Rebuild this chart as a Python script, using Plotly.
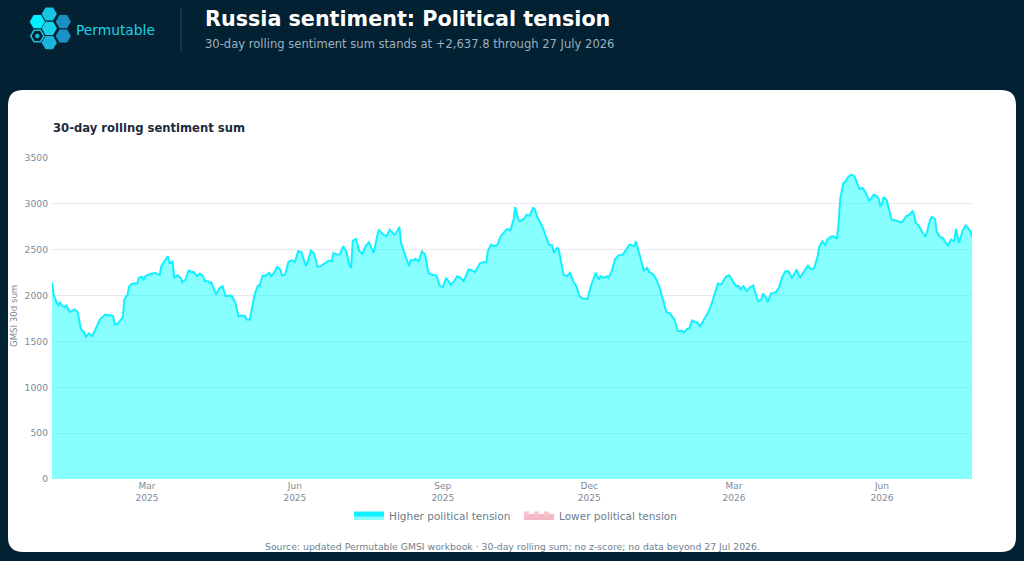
import math
import plotly.graph_objects as go

# ---------------- data ----------------
dates = [
    "2025-01-01", "2025-01-02", "2025-01-04", "2025-01-05", "2025-01-06", "2025-01-07", "2025-01-09", "2025-01-10",
    "2025-01-12", "2025-01-14", "2025-01-15", "2025-01-17", "2025-01-18", "2025-01-19", "2025-01-21", "2025-01-22",
    "2025-01-24", "2025-01-26", "2025-01-27", "2025-01-29", "2025-01-31", "2025-02-02", "2025-02-03", "2025-02-05",
    "2025-02-06", "2025-02-08", "2025-02-09", "2025-02-11", "2025-02-12", "2025-02-14", "2025-02-15", "2025-02-17",
    "2025-02-18", "2025-02-20", "2025-02-23", "2025-02-24", "2025-02-26", "2025-02-27", "2025-02-28", "2025-03-03",
    "2025-03-06", "2025-03-09", "2025-03-10", "2025-03-12", "2025-03-14", "2025-03-15", "2025-03-17", "2025-03-18",
    "2025-03-20", "2025-03-22", "2025-03-23", "2025-03-25", "2025-03-27", "2025-03-29", "2025-03-30", "2025-04-01",
    "2025-04-03", "2025-04-05", "2025-04-06", "2025-04-08", "2025-04-09", "2025-04-10", "2025-04-11", "2025-04-13",
    "2025-04-15", "2025-04-17", "2025-04-19", "2025-04-21", "2025-04-23", "2025-04-25", "2025-04-27", "2025-04-29",
    "2025-05-01", "2025-05-02", "2025-05-04", "2025-05-06", "2025-05-07", "2025-05-09", "2025-05-10", "2025-05-12",
    "2025-05-14", "2025-05-16", "2025-05-17", "2025-05-19", "2025-05-21", "2025-05-23", "2025-05-24", "2025-05-26",
    "2025-05-28", "2025-05-30", "2025-06-01", "2025-06-03", "2025-06-05", "2025-06-06", "2025-06-08", "2025-06-09",
    "2025-06-11", "2025-06-13", "2025-06-15", "2025-06-17", "2025-06-19", "2025-06-20", "2025-06-22", "2025-06-24",
    "2025-06-25", "2025-06-27", "2025-06-29", "2025-07-01", "2025-07-03", "2025-07-05", "2025-07-06", "2025-07-07",
    "2025-07-09", "2025-07-11", "2025-07-13", "2025-07-15", "2025-07-17", "2025-07-20", "2025-07-22", "2025-07-23",
    "2025-07-26", "2025-07-28", "2025-07-30", "2025-08-02", "2025-08-03", "2025-08-05", "2025-08-06", "2025-08-09",
    "2025-08-11", "2025-08-12", "2025-08-14", "2025-08-15", "2025-08-17", "2025-08-19", "2025-08-21", "2025-08-23",
    "2025-08-25", "2025-08-28", "2025-08-30", "2025-09-01", "2025-09-03", "2025-09-06", "2025-09-08", "2025-09-10",
    "2025-09-12", "2025-09-14", "2025-09-17", "2025-09-19", "2025-09-21", "2025-09-24", "2025-09-26", "2025-09-28",
    "2025-09-29", "2025-10-01", "2025-10-03", "2025-10-05", "2025-10-07", "2025-10-09", "2025-10-11", "2025-10-13",
    "2025-10-15", "2025-10-16", "2025-10-18", "2025-10-19", "2025-10-22", "2025-10-23", "2025-10-25", "2025-10-27",
    "2025-10-28", "2025-10-30", "2025-11-02", "2025-11-04", "2025-11-06", "2025-11-08", "2025-11-09", "2025-11-11",
    "2025-11-12", "2025-11-15", "2025-11-17", "2025-11-19", "2025-11-21", "2025-11-23", "2025-11-25", "2025-11-27",
    "2025-11-30", "2025-12-02", "2025-12-05", "2025-12-07", "2025-12-08", "2025-12-10", "2025-12-12", "2025-12-13",
    "2025-12-15", "2025-12-17", "2025-12-19", "2025-12-22", "2025-12-24", "2025-12-26", "2025-12-29", "2025-12-30",
    "2026-01-01", "2026-01-04", "2026-01-06", "2026-01-07", "2026-01-10", "2026-01-12", "2026-01-14", "2026-01-16",
    "2026-01-18", "2026-01-20", "2026-01-23", "2026-01-25", "2026-01-27", "2026-01-29", "2026-01-31", "2026-02-01",
    "2026-02-03", "2026-02-05", "2026-02-06", "2026-02-08", "2026-02-11", "2026-02-13", "2026-02-15", "2026-02-17",
    "2026-02-19", "2026-02-21", "2026-02-24", "2026-02-26", "2026-02-28", "2026-03-02", "2026-03-04", "2026-03-05",
    "2026-03-07", "2026-03-09", "2026-03-11", "2026-03-13", "2026-03-14", "2026-03-16", "2026-03-18", "2026-03-19",
    "2026-03-21", "2026-03-22", "2026-03-24", "2026-03-27", "2026-03-29", "2026-03-31", "2026-04-02", "2026-04-04",
    "2026-04-06", "2026-04-07", "2026-04-09", "2026-04-11", "2026-04-13", "2026-04-16", "2026-04-18", "2026-04-20",
    "2026-04-22", "2026-04-23", "2026-04-25", "2026-04-27", "2026-04-28", "2026-04-30", "2026-05-02", "2026-05-04",
    "2026-05-05", "2026-05-06", "2026-05-08", "2026-05-09", "2026-05-11", "2026-05-13", "2026-05-15", "2026-05-16",
    "2026-05-18", "2026-05-20", "2026-05-22", "2026-05-24", "2026-05-25", "2026-05-27", "2026-05-29", "2026-05-30",
    "2026-05-31", "2026-06-01", "2026-06-02", "2026-06-04", "2026-06-07", "2026-06-09", "2026-06-11", "2026-06-13",
    "2026-06-14", "2026-06-16", "2026-06-18", "2026-06-20", "2026-06-21", "2026-06-22", "2026-06-24", "2026-06-26",
    "2026-06-28", "2026-06-29", "2026-07-01", "2026-07-02", "2026-07-04", "2026-07-05", "2026-07-07", "2026-07-09",
    "2026-07-10", "2026-07-12", "2026-07-14", "2026-07-16", "2026-07-17", "2026-07-18", "2026-07-19", "2026-07-21",
    "2026-07-23", "2026-07-24", "2026-07-26", "2026-07-27",
]

gmsi_30d_sum = [
    2146, 2011, 1920, 1895, 1931, 1891, 1877, 1891,
    1822, 1837, 1848, 1819, 1721, 1630, 1601, 1550,
    1587, 1557, 1594, 1666, 1746, 1775, 1793, 1782,
    1790, 1775, 1684, 1695, 1714, 1764, 1957, 2011,
    2102, 2131, 2131, 2193, 2204, 2167, 2211, 2236,
    2247, 2226, 2320, 2374, 2429, 2356, 2371, 2193,
    2222, 2193, 2146, 2175, 2273, 2255, 2258, 2211,
    2240, 2211, 2157, 2157, 2138, 2146, 2102, 2011,
    2077, 2102, 1993, 2000, 1993, 1920, 1775, 1782,
    1775, 1739, 1739, 1920, 2011, 2109, 2102, 2218,
    2218, 2247, 2211, 2247, 2313, 2284, 2218, 2229,
    2367, 2385, 2363, 2483, 2476, 2422, 2320, 2374,
    2491, 2458, 2313, 2320, 2345, 2356, 2382, 2374,
    2465, 2447, 2447, 2538, 2480, 2330, 2302, 2600,
    2618, 2490, 2454, 2540, 2581, 2465, 2647, 2719,
    2665, 2647, 2719, 2665, 2683, 2748, 2574, 2411,
    2320, 2385, 2385, 2400, 2374, 2483, 2447, 2247,
    2229, 2218, 2109, 2091, 2193, 2120, 2157, 2211,
    2193, 2157, 2284, 2276, 2255, 2349, 2363, 2363,
    2483, 2556, 2538, 2556, 2647, 2690, 2727, 2712,
    2828, 2963, 2828, 2810, 2846, 2879, 2872, 2955,
    2948, 2846, 2748, 2647, 2556, 2545, 2465, 2520,
    2509, 2229, 2211, 2247, 2157, 2102, 1993, 1968,
    1964, 2102, 2247, 2175, 2211, 2193, 2211, 2193,
    2265, 2393, 2436, 2447, 2502, 2556, 2538, 2592,
    2465, 2273, 2302, 2265, 2229, 2167, 2075, 1957,
    1819, 1808, 1739, 1612, 1619, 1601, 1637, 1637,
    1728, 1710, 1710, 1666, 1757, 1819, 1902, 2022,
    2131, 2120, 2204, 2222, 2157, 2109, 2102, 2066,
    2102, 2048, 2091, 2109, 2048, 1938, 1957, 2022,
    1975, 1928, 2022, 2037, 2084, 2204, 2265, 2265,
    2193, 2218, 2284, 2193, 2247, 2327, 2284, 2302,
    2429, 2530, 2592, 2545, 2610, 2639, 2647, 2618,
    2774, 3046, 3228, 3235, 3293, 3318, 3300, 3246,
    3162, 3173, 3119, 3035, 3053, 3101, 3082, 3053,
    2981, 2992, 3075, 3039, 2828, 2821, 2810, 2799,
    2810, 2864, 2883, 2919, 2883, 2792, 2763, 2690,
    2647, 2690, 2828, 2857, 2835, 2701, 2639, 2628,
    2592, 2545, 2610, 2592, 2727, 2647, 2574, 2701,
    2763, 2748, 2701, 2637.8,
]

x_tick_dates = ["2025-03-01", "2025-06-01", "2025-09-01", "2025-12-01", "2026-03-01", "2026-06-01"]
x_tick_labels = ["Mar<br>2025", "Jun<br>2025", "Sep<br>2025", "Dec<br>2025", "Mar<br>2026", "Jun<br>2026"]
y_ticks = [0, 500, 1000, 1500, 2000, 2500, 3000, 3500]

series_names = ["Higher political tension", "Lower political tension"]
title_text = "Russia sentiment: Political tension"
subtitle_text = "30-day rolling sentiment sum stands at +2,637.8 through 27 July 2026"
panel_title = "30-day rolling sentiment sum"
y_axis_title = "GMSI 30d sum"
source_text = ("Source: updated Permutable GMSI workbook · 30-day rolling sum; "
               "no z-score; no data beyond 27 Jul 2026.")
brand = "Permutable"

# ---------------- layout geometry ----------------
W, H = 1024, 561
ML, MR, MT, MB = 52, 52, 158, 82
PW, PH = W - ML - MR, H - MT - MB
FONT = "DejaVu Sans"
BG = "#022132"


def px(x):
    return (x - ML) / PW


def py(y):
    return (H - MB - y) / PH


higher = [v if v >= 0 else 0 for v in gmsi_30d_sum]
lower = [v if v < 0 else None for v in gmsi_30d_sum]

fig = go.Figure()
fig.add_trace(go.Scatter(
    x=dates, y=higher, name=series_names[0], mode="lines",
    line=dict(color="#12F0FF", width=2), fill="tozeroy",
    fillcolor="rgba(0,255,255,0.47)", hoverinfo="x+y",
))
fig.add_trace(go.Scatter(
    x=dates, y=lower, name=series_names[1], mode="lines",
    line=dict(color="#F7C6D0", width=1, dash="dot"), fill="tozeroy",
    fillcolor="rgba(240,160,178,0.75)", hoverinfo="x+y",
))

shapes = []

# white rounded card
cx0, cx1, cy0, cy1, rr = 8, 1016, 90, 552, 15
rx, ry = rr / PW, rr / PH
X0, X1, Y0, Y1 = px(cx0), px(cx1), py(cy1), py(cy0)
card = (f"M{X0 + rx},{Y1} L{X1 - rx},{Y1} Q{X1},{Y1} {X1},{Y1 - ry} "
        f"L{X1},{Y0 + ry} Q{X1},{Y0} {X1 - rx},{Y0} L{X0 + rx},{Y0} "
        f"Q{X0},{Y0} {X0},{Y0 + ry} L{X0},{Y1 - ry} Q{X0},{Y1} {X0 + rx},{Y1} Z")
shapes.append(dict(type="path", path=card, xref="paper", yref="paper",
                   fillcolor="#FFFFFF", line=dict(width=0), layer="below"))

# header divider
shapes.append(dict(type="line", xref="paper", yref="paper", x0=px(181), x1=px(181),
                   y0=py(8), y1=py(52), line=dict(color="#2E4759", width=1)))


def hexagon(cx, cy, r):
    pts = []
    for k in range(6):
        a = math.radians(60 * k)
        pts.append((px(cx + r * math.cos(a)), py(cy + r * math.sin(a))))
    return "M" + " L".join(f"{a},{b}" for a, b in pts) + " Z"


logo = [
    (49.3, 14.0, "#17C4E2", True),
    (37.3, 21.7, "#00EEFF", True),
    (49.3, 28.3, "#17D2EA", True),
    (63.3, 21.7, "#1B8EC2", True),
    (37.3, 36.0, "#15BFD8", False),
    (63.3, 36.0, "#1B92C6", True),
    (49.3, 42.7, "#1BB4DE", True),
]
for cx, cy, col, filled in logo:
    if filled:
        shapes.append(dict(type="path", path=hexagon(cx, cy, 7.6), xref="paper", yref="paper",
                           fillcolor=col, line=dict(width=0)))
    else:
        shapes.append(dict(type="path", path=hexagon(cx, cy, 6.6), xref="paper", yref="paper",
                           fillcolor="rgba(0,0,0,0)", line=dict(color=col, width=1.6)))
        shapes.append(dict(type="circle", xref="paper", yref="paper",
                           x0=px(cx - 2.2), x1=px(cx + 2.2), y0=py(cy + 2.2), y1=py(cy - 2.2),
                           fillcolor=col, line=dict(width=0)))

annotations = [
    dict(text=brand, x=px(74), y=py(30.5), xanchor="left", yanchor="middle",
         font=dict(family=FONT, size=13.8, color="#19D3E8")),
    dict(text=f"<b>{title_text}</b>", x=px(203), y=py(19), xanchor="left", yanchor="middle",
         font=dict(family=FONT, size=20.7, color="#FFFFFF")),
    dict(text=subtitle_text, x=px(203), y=py(44), xanchor="left", yanchor="middle",
         font=dict(family=FONT, size=11.55, color="#9DB0C1")),
    dict(text=f"<b>{panel_title}</b>", x=px(51), y=py(128), xanchor="left", yanchor="middle",
         font=dict(family=FONT, size=11.6, color="#1C2B3A")),
    dict(text=y_axis_title, x=px(14), y=py(316), xanchor="center", yanchor="middle",
         textangle=-90, font=dict(family=FONT, size=8.6, color="#7D8B99")),
    dict(text=source_text, x=0.5, y=py(546), xanchor="center", yanchor="middle",
         font=dict(family=FONT, size=9.3, color="#6E7F8F")),
]
for a in annotations:
    a.update(xref="paper", yref="paper", showarrow=False)

fig.update_layout(
    width=W, height=H,
    margin=dict(l=ML, r=MR, t=MT, b=MB, pad=0),
    paper_bgcolor=BG, plot_bgcolor="rgba(0,0,0,0)",
    font=dict(family=FONT, color="#7D8B99"),
    showlegend=True,
    legend=dict(orientation="h", x=px(519), xanchor="center", y=py(516), yanchor="middle",
                font=dict(family=FONT, size=10.5, color="#6C7D8E"),
                entrywidth=125, entrywidthmode="pixels",
                bgcolor="rgba(0,0,0,0)", itemsizing="constant"),
    shapes=shapes, annotations=annotations,
    xaxis=dict(type="date", range=[dates[0], dates[-1]], tickvals=x_tick_dates,
               ticktext=x_tick_labels, showgrid=False, zeroline=False, showline=False,
               ticks="", tickfont=dict(family=FONT, size=9, color="#7D8B99")),
    yaxis=dict(range=[0, 3500], tickvals=y_ticks, showgrid=True, gridcolor="#E5EBF1",
               gridwidth=1, zeroline=False, showline=False, ticks="", ticklabelstandoff=3,
               tickfont=dict(family=FONT, size=9.2, color="#7D8B99")),
    hovermode="x unified",
)

fig.write_html("out.html")
